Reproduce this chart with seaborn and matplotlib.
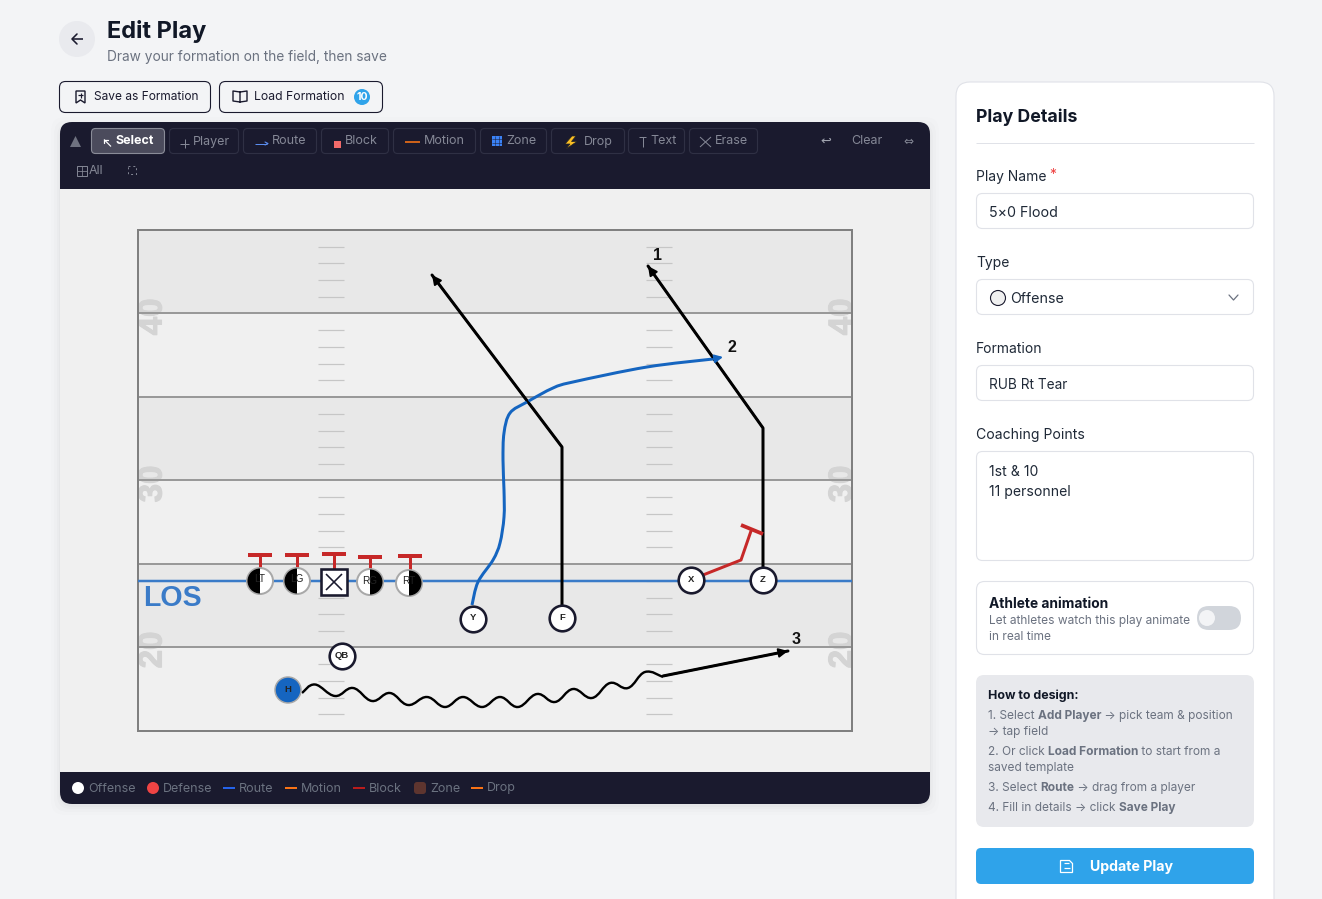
import pandas as pd
import matplotlib.pyplot as plt
import matplotlib.patheffects as pe
import seaborn as sns
from matplotlib.patches import FancyBboxPatch, PathPatch, Rectangle, Wedge, Circle, Polygon
from matplotlib.path import Path

# Play data, in canvas pixels of the screenshot
yard_lines = [313, 397, 480, 564, 647]
yard_labels = ["40", "30", "20"]
yard_label_y = [317, 484, 650]
hash_y = [247, 263, 280, 297, 330, 347, 364, 380, 414, 431, 447, 464,
          497, 514, 531, 547, 581, 598, 614, 631, 664, 681, 698, 714]

line_names = ["LT", "LG", "RG", "RT"]
line_x = [260, 297, 370, 409]
line_y = [581, 581, 582, 583]
line_black_left = [True, True, False, False]
block_top_y = [555, 555, 554, 557, 556]
block_x = [260, 297, 334, 370, 410]

skill_names = ["Y", "F", "X", "Z", "QB"]
skill_x = [473, 562, 691, 763, 342]
skill_y = [619, 618, 580, 580, 656]

z_route_x = [763, 763, 648]
z_route_y = [567, 428, 266]
f_route_x = [562, 562, 432]
f_route_y = [605, 447, 275]
y_route_x = [472, 478, 493, 500, 504, 504, 503, 504, 510, 527, 553, 573, 647, 713, 723]
y_route_y = [605, 582, 560, 543, 517, 490, 460, 433, 413, 402, 388, 382, 367, 359, 357]
x_block_x = [703, 741, 751]
x_block_y = [575, 560, 531]
motion_x = [302, 315, 335, 353, 372, 390, 408, 427, 445, 463, 482, 500, 518, 537, 555, 573, 592, 610, 628, 645, 663]
motion_y = [693, 684.5, 696, 688, 701, 693, 705, 697, 707, 697, 707, 697, 707, 694, 702, 689, 698, 683, 688, 672, 677]
h_route_x = [663, 788]
h_route_y = [676, 651]

route_numbers = ["1", "2", "3"]
route_number_x = [658, 732, 796]
route_number_y = [255, 347, 640]

tool_names = ["Select", "Player", "Route", "Block", "Motion", "Zone", "Drop", "Text", "Erase"]
tool_left = [91, 169, 243, 321, 393, 480, 551, 628, 689]
tool_right = [165, 239, 317, 389, 476, 547, 625, 685, 758]
tool_text_x = [116, 193, 272, 345, 424, 506, 584, 650, 715]

legend_names = ["Offense", "Defense", "Route", "Motion", "Block", "Zone", "Drop"]
legend_text_x = [88, 163, 239, 301, 369, 430, 487]

DARK = "#1a1a2e"
BLUE_BTN = "#2fa3ea"
GREY_TXT = "#6b7280"
TOOL_TXT = "#858896"
BORDER = "#e0e2e8"

sns.set_theme(style="white")
plt.rcParams["font.family"] = ["Inter", "DejaVu Sans"]

fig = plt.figure(figsize=(13.22, 8.99), dpi=100, facecolor="#f3f4f6")
ax = fig.add_axes([0, 0, 1, 1])
ax.set_xlim(0, 1322)
ax.set_ylim(899, 0)
ax.axis("off")


def px(size):
    return size * 0.72


def box(x0, y0, x1, y1, r, fc, ec="none", lw=0.8, z=1, alpha=None):
    p = FancyBboxPatch((x0 + r, y0 + r), x1 - x0 - 2 * r, y1 - y0 - 2 * r,
                       boxstyle=f"round,pad={r},rounding_size={r}",
                       fc=fc, ec=ec, lw=lw, zorder=z, alpha=alpha)
    ax.add_patch(p)


def label(x, y, s, size, color=DARK, weight="normal", ha="left", z=10, **kw):
    return ax.text(x, y + 1.5, s, fontsize=px(size), color=color, fontweight=weight,
                   ha=ha, va="center", zorder=z, **kw)


def runs(x, y, parts, size, color):
    # regular and bold pieces on one line
    r = fig.canvas.get_renderer()
    for s, w in parts:
        t = label(x, y, s, size, color, w)
        x += t.get_window_extent(r).width


def stroke(xs, ys, color, lw, z=6):
    ax.plot(xs, ys, color=color, lw=px(lw), zorder=z, solid_capstyle="butt")


def route(xs, ys, color, lw=3, z=5):
    df = pd.DataFrame({"x": xs, "y": ys})
    sns.lineplot(data=df, x="x", y="y", ax=ax, color=color, linewidth=px(lw), sort=False,
                 estimator=None, legend=False, zorder=z)


def curved_route(xs, ys, color, lw, tension=1 / 6, z=5):
    # bezier path running through every read point
    n = len(xs)
    verts = [(xs[0], ys[0])]
    codes = [Path.MOVETO]
    for i in range(n - 1):
        a, b = max(i - 1, 0), min(i + 2, n - 1)
        verts.append((xs[i] + (xs[i + 1] - xs[a]) * tension, ys[i] + (ys[i + 1] - ys[a]) * tension))
        verts.append((xs[i + 1] - (xs[b] - xs[i]) * tension, ys[i + 1] - (ys[b] - ys[i]) * tension))
        verts.append((xs[i + 1], ys[i + 1]))
        codes += [Path.CURVE4] * 3
    ax.add_patch(PathPatch(Path(verts, codes), fc="none", ec=color, lw=px(lw), zorder=z,
                           joinstyle="round", capstyle="butt"))


def arrow(xs, ys, color, size=9):
    ax.annotate("", xy=(xs[-1], ys[-1]), xytext=(xs[-2], ys[-2]), zorder=7,
                arrowprops=dict(arrowstyle="-|>,head_length=0.6,head_width=0.3", color=color,
                                lw=px(2), shrinkA=0, shrinkB=0, mutation_scale=size))


# header
ax.add_patch(Circle((77, 39), 18, fc="#e9eaee", ec="none"))
stroke([72, 83], [39, 39], DARK, 1.6)
ax.plot([77, 72, 77], [34, 39, 44], color=DARK, lw=px(1.6), zorder=6)
label(107, 30, "Edit Play", 23.6, "#111827", "bold")
label(107, 55.5, "Draw your formation on the field, then save", 13.7, GREY_TXT)

box(59.5, 81.5, 210.5, 112.5, 6, "none", DARK, 0.8)
box(219.5, 81.5, 382.5, 112.5, 6, "none", DARK, 0.8)
ax.add_patch(Polygon([(76, 91), (85, 91), (85, 103), (80.5, 100), (76, 103)], fc="none", ec=DARK, lw=1.0, zorder=6))
stroke([78, 83], [95, 95], DARK, 1.2)
stroke([80.5, 80.5], [92.5, 97.5], DARK, 1.2)
label(94, 96, "Save as Formation", 11.95, DARK)
ax.plot([240, 240, 233, 233, 240, 247, 247, 240], [102, 92, 91, 101, 102, 101, 91, 92], color=DARK, lw=1.0, zorder=6)
label(254, 96, "Load Formation", 12.2, DARK)
ax.add_patch(Circle((362, 97), 8, fc=BLUE_BTN, ec="none", zorder=5))
label(362, 96, "10", 10.5, "white", "bold", ha="center")

# play board
for grow, a in [(9, 0.006), (6, 0.01), (3, 0.015), (1, 0.02)]:
    box(60 - grow, 122 - grow + 4, 930 + grow, 804 + grow + 2, 14, "black", z=1, alpha=a)
box(60, 122, 930, 804, 12, DARK, z=2)
ax.add_patch(Rectangle((60, 189), 870, 583, fc="#f0f0f0", ec="none", zorder=3))

# toolbar
ax.add_patch(Polygon([(70, 147), (81, 147), (75.5, 136)], fc="#6f7280", ec="none", zorder=6))
for i, name in enumerate(tool_names):
    selected = name == "Select"
    box(tool_left[i] + 0.5, 128.5, tool_right[i] - 0.5, 153.5, 4,
        "#4b4b5c" if selected else "none", "#8a8c98" if selected else "#2f3044", 0.8, z=4)
    label(tool_text_x[i], 140, name, 12.5, "white" if selected else TOOL_TXT,
          "bold" if selected else "normal")
stroke([104, 111], [139.5, 146.5], "white", 1.2)
ax.plot([104, 104, 108], [143, 139.5, 139.5], color="white", lw=0.9, zorder=6)
stroke([180, 189], [143.5, 143.5], TOOL_TXT, 1)
stroke([184.5, 184.5], [139, 148], TOOL_TXT, 1)
stroke([255, 267], [143.5, 143.5], "#5b8def", 1)
ax.plot([265, 268, 265], [142, 143.5, 145], color="#5b8def", lw=0.8, zorder=6)
ax.add_patch(Rectangle((334, 141), 7, 6.5, fc="#f16a6a", ec="none", zorder=6))
stroke([405, 420], [142, 142], "#f97316", 1.6)
ax.add_patch(Rectangle((492, 136), 9.5, 10, fc="#3b82f6", ec="none", zorder=6))
for g in (495, 498.5):
    stroke([g, g], [136, 146], DARK, 0.5, z=7)
for g in (139, 142.5):
    stroke([492, 501.5], [g, g], DARK, 0.5, z=7)
ax.add_patch(Polygon([(572, 136), (565, 144), (570, 144), (566, 149), (577, 141.5), (571.5, 141.5), (576, 136)],
                     fc="#fcbf24", ec="#222222", lw=0.5, zorder=6))
stroke([639, 646], [137, 137], TOOL_TXT, 1)
stroke([642.5, 642.5], [137, 147], TOOL_TXT, 1)
stroke([700, 711], [137, 147], TOOL_TXT, 1)
stroke([711, 700], [137, 147], TOOL_TXT, 1)
ax.text(826, 141, "\u21a9", fontsize=px(13), color="#a0a3ae", ha="center", va="center", zorder=6,
        family="DejaVu Sans")
label(851, 140, "Clear", 12.5, TOOL_TXT)
ax.text(908, 141, "\u21d4", fontsize=px(12), color=TOOL_TXT, ha="center", va="center", zorder=6,
        family="DejaVu Sans")
ax.add_patch(Rectangle((77, 165.5), 10, 10, fc="none", ec=TOOL_TXT, lw=0.7, zorder=6))
stroke([82, 82], [165.5, 175.5], TOOL_TXT, 0.8)
stroke([77, 87], [170.5, 170.5], TOOL_TXT, 0.8)
label(89, 169, "All", 12.4, TOOL_TXT)
ax.add_patch(Rectangle((128, 166), 8, 8, fc="none", ec=TOOL_TXT, lw=0.7, ls=(0, (2, 3)), zorder=6))

# field
for top, bottom in [(230, 313), (397, 480), (564, 647)]:
    ax.add_patch(Rectangle((138, top), 714, bottom - top, fc="#e8e8e8", ec="none", zorder=3))
for y in hash_y:
    stroke([318, 344], [y, y], "#c6c6c6", 1.2, z=3.5)
    stroke([646, 672], [y, y], "#c6c6c6", 1.2, z=3.5)
for name, y in zip(yard_labels, yard_label_y):
    for x in (153, 843):
        ax.text(x, y, name, fontsize=px(33), color="#d4d4d4", fontweight="bold", rotation=90,
                ha="center", va="center", family="Liberation Sans", zorder=3.6,
                path_effects=[pe.withStroke(linewidth=0.8, foreground="#d4d4d4")])
for y in yard_lines:
    stroke([138, 852], [y, y], "#999999", 2, z=3.7)
ax.add_patch(Rectangle((138, 230), 714, 501, fc="none", ec="#808080", lw=px(2), zorder=3.8))
stroke([138, 852], [580.5, 580.5], "#3a7bc8", 2.5, z=4)
ax.text(143, 598, "LOS", fontsize=px(28.5), color="#3a7bc8", fontweight="bold", ha="left", va="center",
        family="Liberation Sans", zorder=4)

# routes
route(z_route_x, z_route_y, "black")
route(f_route_x, f_route_y, "black")
arrow(z_route_x, z_route_y, "black")
arrow(f_route_x, f_route_y, "black")
curved_route(y_route_x[:-1], y_route_y[:-1], "#1565c0", 3)
arrow(y_route_x, y_route_y, "#1565c0", size=8)
curved_route(motion_x, motion_y, "black", 2.4, tension=1 / 5)
route(h_route_x, h_route_y, "black")
arrow(h_route_x, h_route_y, "black")
route(x_block_x, x_block_y, "#c62828")
stroke([741, 763], [525, 534], "#c62828", 3.8)
for x, y, top in zip(block_x, line_y[:2] + [570] + line_y[2:], block_top_y):
    stroke([x, x], [top, y], "#c62828", 3, z=5)
    stroke([x - 12, x + 12], [top, top], "#c62828", 4, z=5)

for name, x, y in zip(route_numbers, route_number_x, route_number_y):
    ax.text(x, y, name, fontsize=px(16), fontweight="bold", color="#111111", ha="center", va="center",
            family="Liberation Sans", zorder=9)

# players
skill_df = pd.DataFrame({"x": skill_x, "y": skill_y})
sns.scatterplot(data=skill_df, x="x", y="y", ax=ax, s=340, color="white", edgecolor=DARK,
                linewidth=px(2.6), legend=False, zorder=7)
for name, x, y in zip(skill_names, skill_x, skill_y):
    ax.text(x, y - 1, name, fontsize=px(9.5), fontweight="bold", color="#222222", ha="center", va="center",
            family="Liberation Sans", zorder=9)

for name, x, y, left in zip(line_names, line_x, line_y, line_black_left):
    ax.add_patch(Circle((x, y), 13, fc="white", ec="#a8a8a8", lw=px(2), zorder=7))
    theta = (90, 270) if left else (270, 90)
    ax.add_patch(Wedge((x, y), 12.5, theta[0], theta[1], fc="black", ec="none", zorder=7.5))
    ax.text(x, y - 1.5, name, fontsize=px(10), color="#222222", ha="center", va="center",
            family="Liberation Sans", zorder=9)

ax.add_patch(Rectangle((321, 569), 26, 26, fc="white", ec=DARK, lw=px(2.6), zorder=7))
stroke([326, 342], [574, 590], DARK, 1.6, z=8)
stroke([342, 326], [574, 590], DARK, 1.6, z=8)

ax.add_patch(Circle((288, 690), 13, fc="#1565c0", ec="#a8a8a8", lw=px(1.5), zorder=7))
ax.text(288, 689, "H", fontsize=px(9.5), fontweight="bold", color="#222222", ha="center", va="center",
        family="Liberation Sans", zorder=9)

# bottom legend
ax.add_patch(Circle((78, 788), 6, fc="white", ec="none", zorder=6))
ax.add_patch(Circle((153, 788), 6, fc="#ef4444", ec="none", zorder=6))
stroke([223, 235], [788, 788], "#2563eb", 2)
stroke([285, 297], [788, 788], "#f97316", 2)
stroke([353, 365], [788, 788], "#b91c1c", 2)
box(414, 782, 426, 794, 3, "#5e352f", z=6)
stroke([471, 483], [788, 788], "#f97316", 2)
for name, x in zip(legend_names, legend_text_x):
    label(x, 787, name, 12.5, GREY_TXT)

# details card
box(956, 82, 1274, 940, 14, "white", BORDER, 0.8, z=2)
label(976, 116, "Play Details", 17.7, "#111827", "bold")
stroke([976, 1254], [142.5, 142.5], BORDER, 1)

label(976, 175.5, "Play Name", 13.9, "#1f2937")
label(1049, 174, "*", 14, "#ef4444")
box(976.5, 193.5, 1253.5, 228.5, 6, "white", BORDER, 0.8, z=3)
label(989, 211.5, "5\u00d70 Flood", 14.2, "#1f2937")

label(976, 261.5, "Type", 13.9, "#1f2937")
box(976.5, 279.5, 1253.5, 314.5, 6, "white", BORDER, 0.8, z=3)
ax.add_patch(Circle((998, 298), 7.5, fc="#f0f0f0", ec=DARK, lw=0.8, zorder=5))
label(1010, 297.5, "Offense", 14.2, "#1f2937")
ax.plot([1229, 1233.5, 1238], [295, 300, 295], color="#6b7280", lw=0.9, zorder=5)

label(976, 347.5, "Formation", 13.9, "#1f2937")
box(976.5, 365.5, 1253.5, 400.5, 6, "white", BORDER, 0.8, z=3)
label(989, 383.5, "RUB Rt Tear", 13.6, "#1f2937")

label(976, 433.5, "Coaching Points", 14.0, "#1f2937")
box(976.5, 451.5, 1253.5, 560.5, 6, "white", BORDER, 0.8, z=3)
label(989, 470.5, "1st & 10", 14.0, "#1f2937")
label(989, 490.5, "11 personnel", 14.0, "#1f2937")

box(976.5, 581.5, 1253.5, 654.5, 8, "white", BORDER, 0.8, z=3)
label(989, 602.5, "Athlete animation", 13.8, "#111827", "bold")
label(989, 619.5, "Let athletes watch this play animate", 11.9, GREY_TXT)
label(989, 635.5, "in real time", 11.9, GREY_TXT)
box(1197, 606, 1241, 630, 12, "#d1d5db", z=4)
ax.add_patch(Circle((1207, 618), 8, fc="#f3f4f6", ec="none", zorder=5))

box(976, 675, 1254, 827, 8, "#e8e9ed", z=3)
label(988, 694, "How to design:", 12.4, "#111827", "bold")
STEP = "#6b7280"
runs(988, 714.5, [("1. Select ", "normal"), ("Add Player", "bold"), (" \u2192 pick team & position", "normal")], 11.85, STEP)
label(988, 730.5, "\u2192 tap field", 11.85, STEP)
runs(988, 750.5, [("2. Or click ", "normal"), ("Load Formation", "bold"), (" to start from a", "normal")], 11.85, STEP)
label(988, 766.5, "saved template", 11.85, STEP)
runs(988, 786.5, [("3. Select ", "normal"), ("Route", "bold"), (" \u2192 drag from a player", "normal")], 11.85, STEP)
runs(988, 806.5, [("4. Fill in details \u2192 click ", "normal"), ("Save Play", "bold")], 11.85, STEP)

box(976, 848, 1254, 884, 5, BLUE_BTN, z=3)
ax.add_patch(Polygon([(1060.5, 860.5), (1069.5, 860.5), (1072.5, 863.5), (1072.5, 872.5), (1060.5, 872.5)],
                     fc="none", ec="white", lw=0.9, zorder=5))
stroke([1063.5, 1069.5], [868, 868], "white", 1.2)
stroke([1063.5, 1068.5], [863, 863], "white", 1.2)
label(1090, 866, "Update Play", 14.2, "white", "bold")

fig.savefig("out.png", dpi=100, facecolor=fig.get_facecolor())
